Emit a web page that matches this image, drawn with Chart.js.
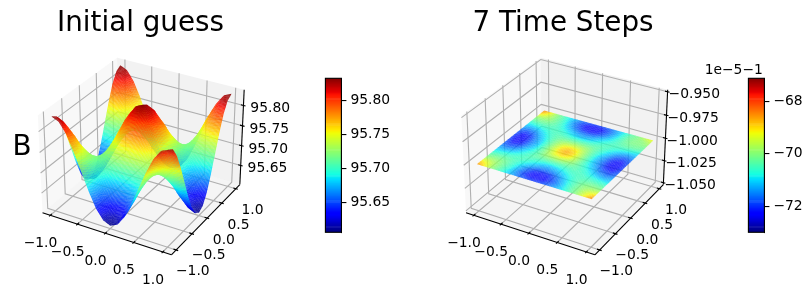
<!DOCTYPE html>
<html><head><meta charset="utf-8">
<style>html,body{margin:0;padding:0;background:#fff}#w{position:relative;width:812px;height:299px;overflow:hidden;background:#fff}canvas{position:absolute;top:0}</style>
<script src="https://cdn.jsdelivr.net/npm/chart.js@4"></script>
</head><body><div id="w">
<canvas id="p1" width="319" height="299" style="left:-19px"></canvas>
<canvas id="p2" width="320" height="299" style="left:403px"></canvas>
<canvas id="c1" width="100" height="299" style="left:300px"></canvas>
<canvas id="c2" width="112" height="299" style="left:700px"></canvas>
</div>
<script>
// ---- values ----
const gridCoords=[-1,-0.875,-0.75,-0.625,-0.5,-0.375,-0.25,-0.125,0,0.125,0.25,0.375,0.5,0.625,0.75,0.875,1];
const axisTicks=[-1,-0.5,0,0.5,1];
const axisTickLabels=['\u22121.0','\u22120.5','0.0','0.5','1.0'];
const zTicksA=[95.65,95.70,95.75,95.80];
const zTicksB=[-1.05,-1.025,-1,-0.975,-0.95];
const cbarTicksA=[95.65,95.70,95.75,95.80];
const cbarTicksB=[-72,-70,-68];
const initialGuess=[
[95.832,95.824,95.800,95.763,95.720,95.677,95.640,95.616,95.608,95.616,95.640,95.677,95.720,95.763,95.800,95.824,95.832],
[95.824,95.816,95.794,95.760,95.720,95.680,95.646,95.624,95.616,95.624,95.646,95.680,95.720,95.760,95.794,95.816,95.824],
[95.800,95.794,95.776,95.750,95.720,95.690,95.664,95.646,95.640,95.646,95.664,95.690,95.720,95.750,95.776,95.794,95.800],
[95.763,95.760,95.750,95.737,95.720,95.703,95.690,95.680,95.677,95.680,95.690,95.703,95.720,95.737,95.750,95.760,95.763],
[95.720,95.720,95.720,95.720,95.720,95.720,95.720,95.720,95.720,95.720,95.720,95.720,95.720,95.720,95.720,95.720,95.720],
[95.677,95.680,95.690,95.703,95.720,95.737,95.750,95.760,95.763,95.760,95.750,95.737,95.720,95.703,95.690,95.680,95.677],
[95.640,95.646,95.664,95.690,95.720,95.750,95.776,95.794,95.800,95.794,95.776,95.750,95.720,95.690,95.664,95.646,95.640],
[95.616,95.624,95.646,95.680,95.720,95.760,95.794,95.816,95.824,95.816,95.794,95.760,95.720,95.680,95.646,95.624,95.616],
[95.608,95.616,95.640,95.677,95.720,95.763,95.800,95.824,95.832,95.824,95.800,95.763,95.720,95.677,95.640,95.616,95.608],
[95.616,95.624,95.646,95.680,95.720,95.760,95.794,95.816,95.824,95.816,95.794,95.760,95.720,95.680,95.646,95.624,95.616],
[95.640,95.646,95.664,95.690,95.720,95.750,95.776,95.794,95.800,95.794,95.776,95.750,95.720,95.690,95.664,95.646,95.640],
[95.677,95.680,95.690,95.703,95.720,95.737,95.750,95.760,95.763,95.760,95.750,95.737,95.720,95.703,95.690,95.680,95.677],
[95.720,95.720,95.720,95.720,95.720,95.720,95.720,95.720,95.720,95.720,95.720,95.720,95.720,95.720,95.720,95.720,95.720],
[95.763,95.760,95.750,95.737,95.720,95.703,95.690,95.680,95.677,95.680,95.690,95.703,95.720,95.737,95.750,95.760,95.763],
[95.800,95.794,95.776,95.750,95.720,95.690,95.664,95.646,95.640,95.646,95.664,95.690,95.720,95.750,95.776,95.794,95.800],
[95.824,95.816,95.794,95.760,95.720,95.680,95.646,95.624,95.616,95.624,95.646,95.680,95.720,95.760,95.794,95.816,95.824],
[95.832,95.824,95.800,95.763,95.720,95.677,95.640,95.616,95.608,95.616,95.640,95.677,95.720,95.763,95.800,95.824,95.832]];
// seven-step surface, in units of 1e-5 about -1
const timeStep7=[
[-68.5,-69.1,-69.9,-70.4,-70.9,-71.3,-71.7,-71.9,-72.0,-71.9,-71.7,-71.3,-70.9,-70.4,-69.9,-69.1,-68.4],
[-69.1,-69.4,-69.9,-70.3,-70.8,-71.4,-71.9,-72.3,-72.4,-72.3,-71.9,-71.4,-70.8,-70.3,-69.9,-69.4,-69.1],
[-69.9,-69.9,-70.0,-70.3,-70.7,-71.2,-71.7,-72.1,-72.2,-72.1,-71.7,-71.2,-70.7,-70.3,-70.0,-69.9,-69.9],
[-70.4,-70.3,-70.3,-70.4,-70.6,-70.9,-71.2,-71.5,-71.6,-71.5,-71.2,-70.9,-70.6,-70.4,-70.3,-70.3,-70.4],
[-70.9,-70.8,-70.7,-70.6,-70.5,-70.6,-70.8,-71.0,-71.1,-71.0,-70.8,-70.6,-70.5,-70.6,-70.7,-70.8,-70.9],
[-71.3,-71.4,-71.2,-70.9,-70.6,-70.4,-70.4,-70.4,-70.4,-70.4,-70.4,-70.4,-70.6,-70.9,-71.2,-71.4,-71.3],
[-71.7,-71.9,-71.7,-71.2,-70.8,-70.4,-70.0,-69.8,-69.7,-69.8,-70.0,-70.4,-70.8,-71.2,-71.7,-71.9,-71.7],
[-71.9,-72.3,-72.1,-71.5,-71.0,-70.4,-69.8,-69.2,-69.0,-69.2,-69.8,-70.4,-71.0,-71.5,-72.1,-72.3,-71.9],
[-72.0,-72.4,-72.2,-71.6,-71.1,-70.4,-69.7,-69.0,-68.7,-69.0,-69.7,-70.4,-71.1,-71.6,-72.2,-72.4,-72.0],
[-71.9,-72.3,-72.1,-71.5,-71.0,-70.4,-69.8,-69.2,-69.0,-69.2,-69.8,-70.4,-71.0,-71.5,-72.1,-72.3,-71.9],
[-71.7,-71.9,-71.7,-71.2,-70.8,-70.4,-70.0,-69.8,-69.7,-69.8,-70.0,-70.4,-70.8,-71.2,-71.7,-71.9,-71.7],
[-71.3,-71.4,-71.2,-70.9,-70.6,-70.4,-70.4,-70.4,-70.4,-70.4,-70.4,-70.4,-70.6,-70.9,-71.2,-71.4,-71.3],
[-70.9,-70.8,-70.7,-70.6,-70.5,-70.6,-70.8,-71.0,-71.1,-71.0,-70.8,-70.6,-70.5,-70.6,-70.7,-70.8,-70.9],
[-70.4,-70.3,-70.3,-70.4,-70.6,-70.9,-71.2,-71.5,-71.6,-71.5,-71.2,-70.9,-70.6,-70.4,-70.3,-70.3,-70.4],
[-69.9,-69.9,-70.0,-70.3,-70.7,-71.2,-71.7,-72.1,-72.2,-72.1,-71.7,-71.2,-70.7,-70.3,-70.1,-70.1,-70.1],
[-69.0,-69.4,-69.9,-70.3,-70.8,-71.4,-71.9,-72.3,-72.4,-72.3,-71.9,-71.4,-70.8,-70.3,-70.1,-70.0,-69.7],
[-68.4,-69.0,-69.9,-70.4,-70.9,-71.3,-71.7,-71.9,-72.0,-71.9,-71.7,-71.3,-70.9,-70.4,-70.1,-69.6,-69.2]];

// ---- drawing ----
const FONT='"DejaVu Sans"', TICK_PX=13.89, TITLE_PX=27.78;
const D=Math.PI/180, el=30*D, az=-60*D, DIST=10;
const BX=4*1.8294640721620434/Math.hypot(4,4,3), BZ=3*1.8294640721620434/Math.hypot(4,4,3);
const U=[-Math.sin(az),Math.cos(az),0];
const N=[Math.cos(el)*Math.cos(az),Math.cos(el)*Math.sin(az),Math.sin(el)];
const V=[N[1]*U[2]-N[2]*U[1],N[2]*U[0]-N[0]*U[2],N[0]*U[1]-N[1]*U[0]];
const LIM=1.1, PB=LIM*(1+1/24), SCALE=1240;
function projector(zlim){
  return (x,y,z)=>{
    const X=x/(2*LIM)*BX, Y=y/(2*LIM)*BX, Z=((z-zlim[0])/(zlim[1]-zlim[0])-0.5)*BZ;
    const n=N[0]*X+N[1]*Y+N[2]*Z, w=DIST-n;
    return {x:(U[0]*X+U[1]*Y)/w, y:(V[0]*X+V[1]*Y+V[2]*Z)/w, n};
  };
}
function jet(t){
  t=Math.max(0,Math.min(1,t));
  const p=(pts)=>{for(let i=1;i<pts.length;i++){if(t<=pts[i][0]){const a=pts[i-1],b=pts[i];return a[1]+(b[1]-a[1])*(t-a[0])/(b[0]-a[0]);}}return pts[pts.length-1][1];};
  return [p([[0,0],[.35,0],[.66,1],[.89,1],[1,.5]]),p([[0,0],[.125,0],[.375,1],[.64,1],[.91,0],[1,0]]),p([[0,.5],[.11,1],[.34,1],[.65,0],[1,0]])].map(c=>Math.round(c*255));
}
const GRID='#b0b0b0';
function line(pts,color,width,order){return {data:pts,showLine:true,borderColor:color,borderWidth:width,pointRadius:0,tension:0,clip:false,order};}
function buildPanel(cfg){
  const pr=projector(cfg.zlim), zr=(cfg.zlim[1]-cfg.zlim[0])/48, zl=cfg.zlim[0]-zr, zh=cfg.zlim[1]+zr, sets=[];
  const pane=(pts,fill)=>sets.push({data:pts,paneFill:fill,showLine:false,pointRadius:0,clip:false,order:9});
  pane([pr(-PB,-PB,zl),pr(-PB,PB,zl),pr(-PB,PB,zh),pr(-PB,-PB,zh)],'rgba(242,242,242,0.5)');
  pane([pr(-PB,PB,zl),pr(PB,PB,zl),pr(PB,PB,zh),pr(-PB,PB,zh)],'rgba(230,230,230,0.5)');
  pane([pr(-PB,-PB,zl),pr(PB,-PB,zl),pr(PB,PB,zl),pr(-PB,PB,zl)],'rgba(236,236,236,0.5)');
  axisTicks.forEach(t=>{
    sets.push(line([pr(t,-PB,zl),pr(t,PB,zl),pr(t,PB,zh)],GRID,1.1,5));
    sets.push(line([pr(PB,t,zl),pr(-PB,t,zl),pr(-PB,t,zh)],GRID,1.1,5));
  });
  cfg.zTicks.forEach(t=>sets.push(line([pr(-PB,-PB,t),pr(-PB,PB,t),pr(PB,PB,t)],GRID,1.1,5)));
  sets.push(line([pr(-PB,-PB,zl),pr(PB,-PB,zl)],'#000',1.1,4));
  sets.push(line([pr(PB,-PB,zl),pr(PB,PB,zl)],'#000',1.1,4));
  sets.push(line([pr(PB,PB,zl),pr(PB,PB,zh)],'#000',1.1,4));
  const tick=(a,b,label,off)=>{const d=line([a,b],'#000',1.1,3);d.tickLabel=label;d.labelOff=off;sets.push(d);};
  const o=0.035,i=0.045;
  axisTicks.forEach((t,k)=>{
    tick(pr(t,-PB-o,zl),pr(t,-PB+i,zl),axisTickLabels[k],[-10,28.5]);
    tick(pr(PB+o,t,zl),pr(PB-i,t,zl),axisTickLabels[k],[17,22]);
  });
  cfg.zTicks.forEach((t,k)=>tick(pr(PB+o,PB,t),pr(PB-i,PB,t),cfg.zFmt(t),cfg.zOff));
  const pts=[];
  cfg.values.forEach((row,j)=>row.forEach((v,k)=>{
    const z=cfg.toZ(v), p=pr(gridCoords[k],gridCoords[j],z);
    p.v=v; pts.push(p);
  }));
  sets.push({data:pts,surface:true,vmin:cfg.vmin,vmax:cfg.vmax,alpha:cfg.alpha,showLine:false,pointRadius:0,clip:false,order:1});
  return sets;
}
const panelPlugin={id:'panel3d',
  beforeDatasetsDraw(chart){
    const ctx=chart.ctx;
    chart.data.datasets.forEach((d,i)=>{ if(!d.paneFill) return;
      const m=chart.getDatasetMeta(i).data; ctx.beginPath();
      m.forEach((e,k)=>k?ctx.lineTo(e.x,e.y):ctx.moveTo(e.x,e.y)); ctx.closePath();
      ctx.fillStyle=d.paneFill; ctx.fill();
    });
  },
  afterDraw(chart){
    const ctx=chart.ctx;
    // surface: each grid cell is Gouraud-shaded between its four vertices
    chart.data.datasets.forEach((d,i)=>{ if(!d.surface) return;
      const m=chart.getDatasetMeta(i).data, n=gridCoords.length, S=6, polys=[];
      const at=(a,b)=>a*n+b;
      for(let j=0;j<n-1;j++)for(let k=0;k<n-1;k++){
        const q=[at(j,k),at(j,k+1),at(j+1,k+1),at(j+1,k)];
        const P=q.map(id=>m[id]), R=q.map(id=>d.data[id]);
        const bl=(s,t,f)=>{const a=f(0)*(1-s)+f(1)*s,b=f(3)*(1-s)+f(2)*s;return a*(1-t)+b*t;};
        for(let a=0;a<S;a++)for(let b=0;b<S;b++){
          const s0=a/S,s1=(a+1)/S,t0=b/S,t1=(b+1)/S,c=[[s0,t0],[s1,t0],[s1,t1],[s0,t1]];
          const xy=c.map(([s,t])=>[bl(s,t,q=>P[q].x),bl(s,t,q=>P[q].y)]);
          const sm=(s0+s1)/2,tm=(t0+t1)/2;
          polys.push({xy,n:bl(sm,tm,q=>R[q].n),v:bl(sm,tm,q=>R[q].v)});
        }
      }
      polys.sort((a,b)=>a.n-b.n);
      polys.forEach(p=>{
        const col=jet((p.v-d.vmin)/(d.vmax-d.vmin));
        const cx=p.xy.reduce((s,q)=>s+q[0],0)/4, cy=p.xy.reduce((s,q)=>s+q[1],0)/4;
        ctx.beginPath();
        p.xy.forEach((q,k)=>{
          const dx=q[0]-cx,dy=q[1]-cy,l=Math.hypot(dx,dy)||1,e=0.15;
          const X=q[0]+dx/l*e,Y=q[1]+dy/l*e;
          k?ctx.lineTo(X,Y):ctx.moveTo(X,Y);
        });
        ctx.closePath();
        ctx.fillStyle=`rgba(${col[0]},${col[1]},${col[2]},${d.alpha})`;
        ctx.fill();
      });
    });
    ctx.save();
    ctx.fillStyle='#000';ctx.font=TICK_PX+'px '+FONT;ctx.textAlign='center';ctx.textBaseline='middle';
    chart.data.datasets.forEach((d,i)=>{ if(!d.tickLabel) return;
      const m=chart.getDatasetMeta(i).data, xm=(m[0].x+m[1].x)/2, ym=(m[0].y+m[1].y)/2;
      ctx.fillText(d.tickLabel,xm+d.labelOff[0],ym+d.labelOff[1]);
    });
    const side=chart.options.plugins.panel3d.sideLabel;
    if(side){ctx.font=TITLE_PX+'px '+FONT;ctx.textAlign='left';ctx.textBaseline='alphabetic';ctx.fillText(side[0],side[1],side[2]);}
    ctx.restore();
  }
};
function panelChart(id,title,canvasLeft,x0,cfg,side){
  const W=+document.getElementById(id).width, fs=TITLE_PX, padT=7.5, padB=0.5, T=fs*1.2+padT+padB, y0=151.5, H=299;
  new Chart(document.getElementById(id),{type:'scatter',plugins:[panelPlugin],
    data:{datasets:buildPanel(cfg)},
    options:{responsive:false,animation:false,events:[],
      layout:{padding:0},
      plugins:{legend:{display:false},tooltip:{enabled:false},panel3d:{sideLabel:side||null},
        title:{display:true,text:title,color:'#000',font:{family:FONT,size:fs,weight:'normal'},padding:{top:padT,bottom:padB}}},
      scales:{x:{type:'linear',display:false,min:(canvasLeft-x0)/SCALE,max:(canvasLeft+W-x0)/SCALE},
              y:{type:'linear',display:false,min:(y0-H)/SCALE,max:(y0-T)/SCALE}}}
  });
}
const minusFmt=(t,dp)=>t.toFixed(dp).replace('-','\u2212');
panelChart('p1','Initial guess',-19,143,{zlim:[95.605,95.833],zTicks:zTicksA,zFmt:t=>minusFmt(t,2),zOff:[27,3.2],values:initialGuess,toZ:v=>v,vmin:95.607,vmax:95.832,alpha:0.86},['B',31.5,155]);
panelChart('p2','7 Time Steps',403,566.5,{zlim:[-1.05,-0.95],zTicks:zTicksB,zFmt:t=>minusFmt(t,3),zOff:[27,3],values:timeStep7,toZ:v=>-1+v*1e-5,vmin:-73,vmax:-67.12,alpha:0.75});

const cbarPlugin={id:'cbarFrame',afterDraw(chart){
  const a=chart.chartArea,ctx=chart.ctx;ctx.save();ctx.strokeStyle='#000';ctx.lineWidth=1.1;
  ctx.strokeRect(a.left,a.top,a.right-a.left,a.bottom-a.top);
  const o=chart.options.plugins.cbarFrame.offsetText;
  if(o){ctx.fillStyle='#000';ctx.font=TICK_PX+'px '+FONT;ctx.textAlign='right';ctx.textBaseline='alphabetic';ctx.fillText(o,a.right-1.5,a.top-4);}
  ctx.restore();
}};
function colorbar(id,left,barLeft,barRight,lo,hi,ticks,fmt,offsetText){
  const W=+document.getElementById(id).width, L=160, sets=[];
  for(let i=0;i<L;i++){
    const c=jet((i+0.5)/L);
    sets.push({data:[[lo+(hi-lo)*i/L,lo+(hi-lo)*(i+1)/L]],backgroundColor:`rgb(${c[0]},${c[1]},${c[2]})`,borderWidth:0,barPercentage:1,categoryPercentage:1,grouped:false});
  }
  new Chart(document.getElementById(id),{type:'bar',plugins:[cbarPlugin],
    data:{labels:[''],datasets:sets},
    options:{responsive:false,animation:false,events:[],
      layout:{padding:{left:barLeft-left,top:78.3,bottom:299-232.3,right:0}},
      plugins:{legend:{display:false},tooltip:{enabled:false},title:{display:false},cbarFrame:{offsetText}},
      scales:{x:{display:false,offset:true,grid:{display:false}},
        y:{position:'right',min:lo,max:hi,
          afterFit:s=>{s.width=W-(barRight-left);},
          afterBuildTicks:s=>{s.ticks=ticks.map(v=>({value:v}));},
          border:{display:true,color:'#000',width:1},
          grid:{drawOnChartArea:false,drawTicks:true,tickLength:5,color:'#000',lineWidth:1.1},
          ticks:{color:'#000',font:{family:FONT,size:TICK_PX},padding:4,callback:v=>fmt(v)}}}}
  });
}
colorbar('c1',300,325.4,341.4,95.607,95.832,cbarTicksA,v=>v.toFixed(2));
colorbar('c2',700,748.4,764.4,-73,-67.12,cbarTicksB,v=>minusFmt(v,0),'1e\u22125\u22121');
</script></body></html>
